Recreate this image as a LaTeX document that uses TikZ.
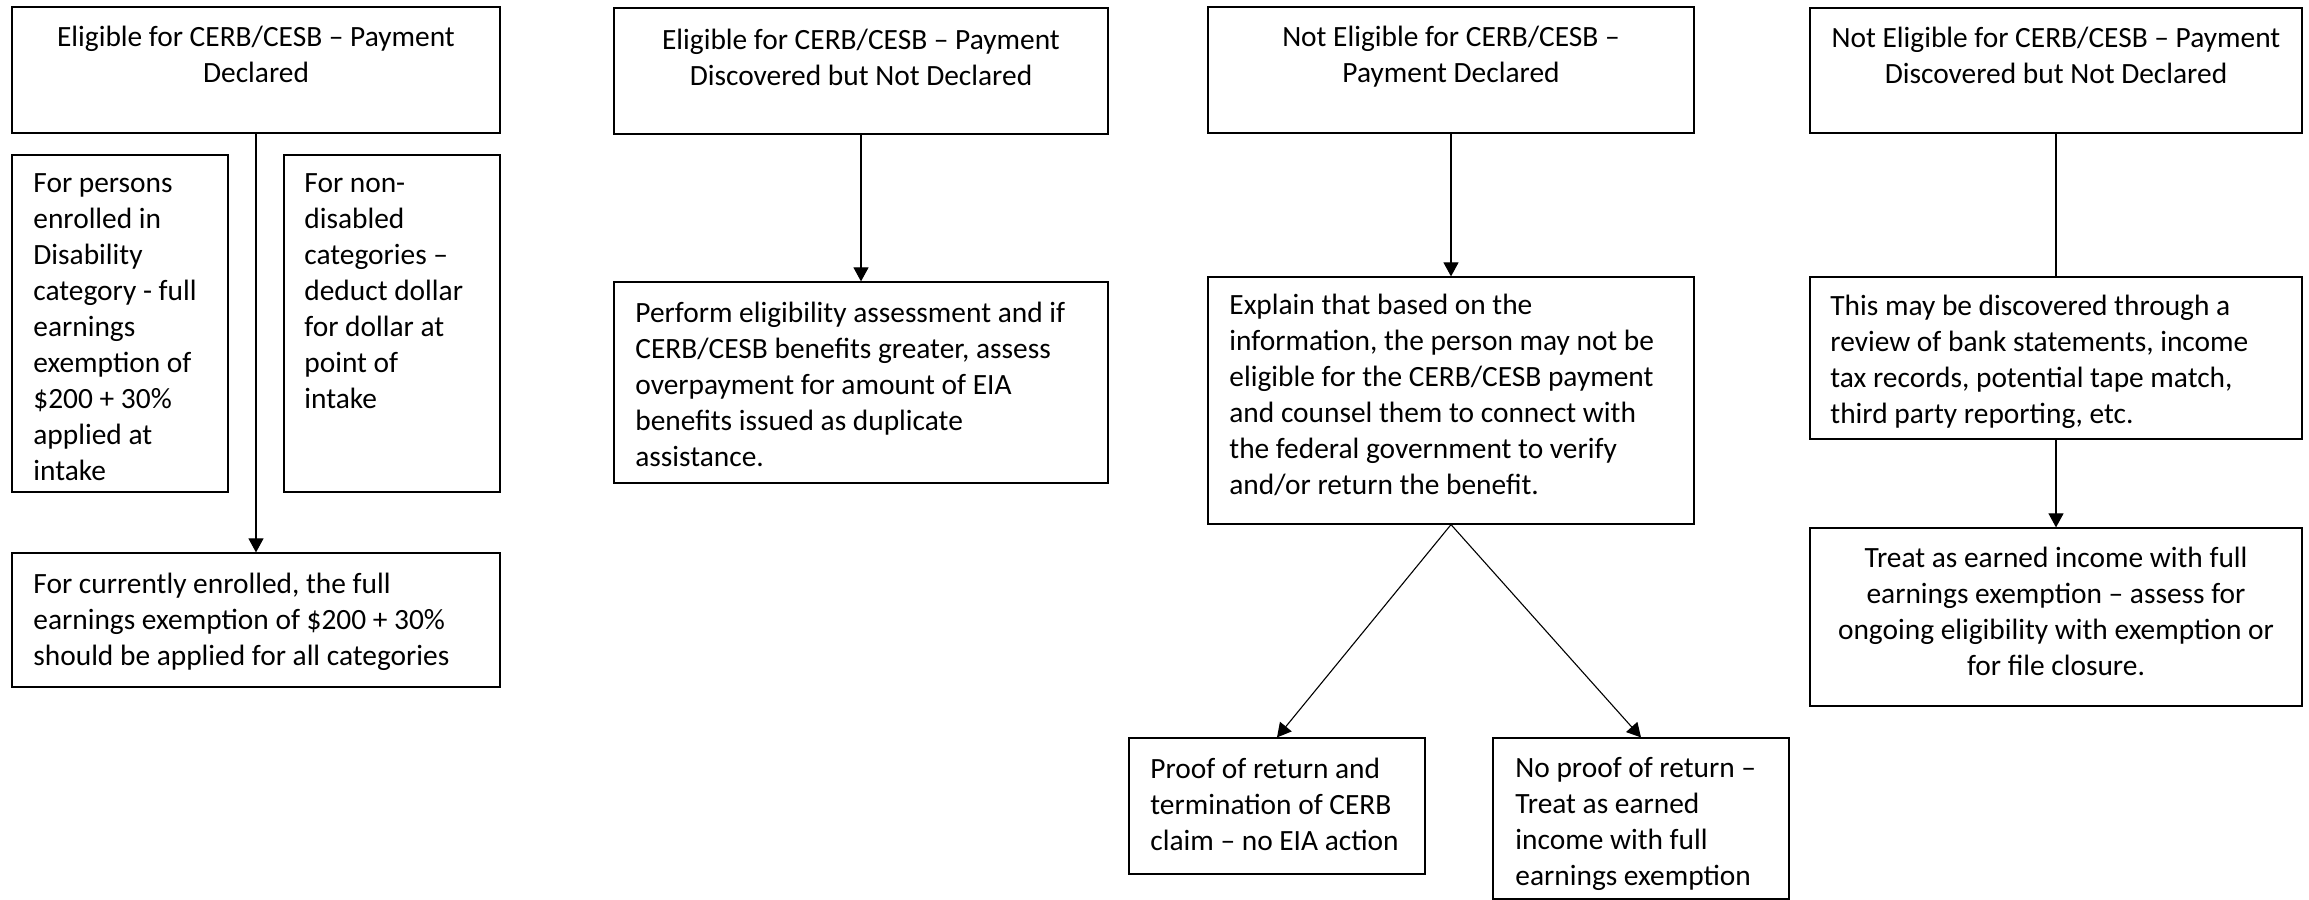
\documentclass[tikz,border=0pt]{standalone}
\usepackage{fontspec}
\setmainfont{Carlito}
\usepackage{tikz}
\usetikzlibrary{arrows.meta,fit}

\begin{document}
\begin{tikzpicture}[x=0.5pt,y=-0.5pt,
  box/.style={draw,line width=0.6pt,inner sep=0pt},
  txt/.style={inner sep=0pt,font=\fontsize{14.7pt}{18pt}\selectfont,execute at begin node=\strut},
  arr/.style={-{Triangle[length=7pt,width=7.5pt]},line width=0.55pt}]

\useasboundingbox (0,0) rectangle (2309,900);

% column 1
\node[box, fit={(12,7) (500,133)}] (a1) {};
\node[box, fit={(12,155) (228,492)}] (a2) {};
\node[box, fit={(284,155) (500,492)}] (a3) {};
\node[box, fit={(12,553) (500,687)}] (a4) {};

\node[txt, align=center, anchor=north] (a1t) at (256,26) {Eligible for CERB/CESB -- Payment\\Declared};
\node[txt, align=left, anchor=north west] (a2t) at (33,173) {For persons\\enrolled in\\Disability\\category - full\\earnings\\exemption of\\\$200 + 30\%\\applied at\\intake};
\node[txt, align=left, anchor=north west] (a3t) at (304,173) {For non-\\disabled\\categories --\\deduct dollar\\for dollar at\\point of\\intake};
\node[txt, align=left, anchor=north west] (a4t) at (33,573) {For currently enrolled, the full\\earnings exemption of \$200 + 30\%\\should be applied for all categories};

\draw[arr] (a1.south) -- (a4.north);

% column 2
\node[box, fit={(614,8) (1108,134)}] (b1) {};
\node[box, fit={(614,282) (1108,483)}] (b2) {};

\node[txt, align=center, anchor=north] (b1t) at (861,29) {Eligible for CERB/CESB -- Payment\\Discovered but Not Declared};
\node[txt, align=left, anchor=north west] (b2t) at (635,302) {Perform eligibility assessment and if\\CERB/CESB benefits greater, assess\\overpayment for amount of EIA\\benefits issued as duplicate\\assistance.};

\draw[arr] (b1.south) -- (b2.north);

% column 3
\node[box, fit={(1208,7) (1694,133)}] (c1) {};
\node[box, fit={(1208,277) (1694,524)}] (c2) {};
\node[box, fit={(1129,738) (1425,874)}] (c3) {};
\node[box, fit={(1493,738) (1789,899)}] (c4) {};

\node[txt, align=center, anchor=north] (c1t) at (1451,26) {Not Eligible for CERB/CESB --\\Payment Declared};
\node[txt, align=left, anchor=north west] (c2t) at (1229,294) {Explain that based on the\\information, the person may not be\\eligible for the CERB/CESB payment\\and counsel them to connect with\\the federal government to verify\\and/or return the benefit.};
\node[txt, align=left, anchor=north west] (c3t) at (1150,758) {Proof of return and\\termination of CERB\\claim -- no EIA action};
\node[txt, align=left, anchor=north west] (c4t) at (1515,757) {No proof of return --\\Treat as earned\\income with full\\earnings exemption};

\draw[arr] (c1.south) -- (c2.north);
\draw[arr] (c2.south) -- (c3.north);
\draw[arr] (c2.south) -- (c4.north);

% column 4
\node[box, fit={(1810,8) (2302,133)}] (d1) {};
\node[box, fit={(1810,277) (2302,439)}] (d2) {};
\node[box, fit={(1810,528) (2302,706)}] (d3) {};

\node[txt, align=center, anchor=north] (d1t) at (2056,27) {Not Eligible for CERB/CESB -- Payment\\Discovered but Not Declared};
\node[txt, align=left, anchor=north west] (d2t) at (1830,295) {This may be discovered through a\\review of bank statements, income\\tax records, potential tape match,\\third party reporting, etc.};
\node[txt, align=center, anchor=north] (d3t) at (2056,547) {Treat as earned income with full\\earnings exemption -- assess for\\ongoing eligibility with exemption or\\for file closure.};

\draw[line width=0.55pt] (d1.south) -- (d2.north);
\draw[arr] (d2.south) -- (d3.north);

\end{tikzpicture}
\end{document}
